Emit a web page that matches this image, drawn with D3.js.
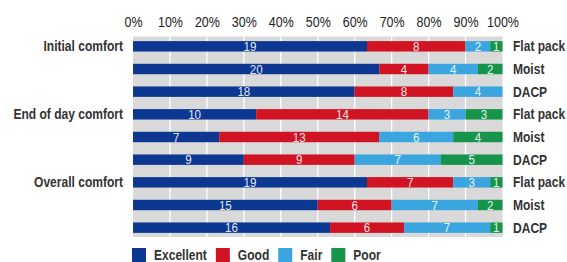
<!DOCTYPE html>
<html>
  <head>
    <script src="https://d3js.org/d3.v7.min.js"></script>
    <style>
body { margin: 0; background: #fff; }
text { font-family: "Liberation Sans", Arial, sans-serif; }
    </style>
  </head>
  <body>
    <script>
var groups = ["Initial comfort", "End of day comfort", "Overall comfort"];
var products = ["Flat pack", "Moist", "DACP"];
var ratings = ["Excellent", "Good", "Fair", "Poor"];
var colors = ["#0c3892", "#d01424", "#3aa5de", "#16944a"];

// counts per row (3 groups x 3 products)
var excellent = [19, 20, 18, 10, 7, 9, 19, 15, 16];
var good = [8, 4, 8, 14, 13, 9, 7, 6, 6];
var fair = [2, 4, 4, 3, 6, 7, 3, 7, 7];
var poor = [1, 2, 0, 3, 4, 5, 1, 2, 1];
var tickValues = [0, 10, 20, 30, 40, 50, 60, 70, 80, 90, 100];

var SX = 0.86; // narrow the font, no condensed face installed

function narrow(sel, tx, ty) {
	return sel.attr("transform", "translate(" + tx + "," + ty + ") scale(" + SX + ",1)");
}

var rows = [];
groups.forEach(function (g, gi) {
	products.forEach(function (p, pi) {
		var i = gi * 3 + pi;
		rows.push({
			id: i, group: pi == 0 ? g : "", product: p,
			values: [excellent[i], good[i], fair[i], poor[i]]
		});
	});
});

var svg = d3.select("body").append("svg").attr("width", 567).attr("height", 262);

var x = d3.scaleLinear().domain([0, 100]).range([133, 502.5]);
var y = d3.scaleBand().domain(d3.range(rows.length)).range([35, 239])
	.paddingInner(0.54).paddingOuter(0.27);

// grey plot background + white grid
svg.append("rect").attr("x", x(0)).attr("y", 36.5)
	.attr("width", x(100) - x(0)).attr("height", 200.5)
	.style("fill", "#d9d9d9");
svg.append("g").selectAll("line").data(tickValues.slice(1, -1)).enter().append("line")
	.attr("x1", function (d) { return x(d); }).attr("x2", function (d) { return x(d); })
	.attr("y1", 36.5).attr("y2", 237)
	.style("stroke", "#fff").style("stroke-width", 1.3);

// top axis
var axis = svg.append("g").attr("transform", "translate(0,27)")
	.call(d3.axisTop(x).tickValues(tickValues).tickSize(0).tickPadding(0)
		.tickFormat(function (d) { return d + "%"; }));
axis.select(".domain").remove();
axis.selectAll("text").attr("font-family", null).attr("transform", "scale(" + SX + ",1)")
	.style("font-size", "14.5px").style("fill", "#222");

// bars
var rowG = svg.selectAll("g.row").data(rows).enter().append("g").attr("class", "row")
	.attr("transform", function (d) { return "translate(0," + y(d.id) + ")"; });

var mid = y.bandwidth() / 2;

rowG.each(function (d) {
	var total = d3.sum(d.values);
	var acc = 0;
	var segs = d.values.map(function (v, k) {
		var s = { k: k, v: v, start: acc / total * 100, end: (acc + v) / total * 100 };
		acc += v;
		return s;
	}).filter(function (s) { return s.v > 0; });
	var g = d3.select(this);
	g.selectAll("rect").data(segs).enter().append("rect")
		.attr("x", function (s) { return x(s.start); })
		.attr("width", function (s) { return x(s.end) - x(s.start); })
		.attr("height", y.bandwidth())
		.style("fill", function (s) { return colors[s.k]; });
	g.selectAll("text.val").data(segs).enter().append("text").attr("class", "val")
		.attr("transform", function (s) {
			return "translate(" + (x(s.start) + x(s.end)) / 2 + "," + (mid + 4.8) + ") scale(" + SX + ",1)";
		})
		.attr("text-anchor", "middle")
		.style("font-size", "13.5px").style("fill", "#fff").style("fill-opacity", 0.9)
		.text(function (s) { return s.v; });
	narrow(g.append("text"), 123, mid + 5)
		.attr("text-anchor", "end").style("font-size", "14px").style("font-weight", "bold")
		.style("fill", "#333").text(d.group);
	narrow(g.append("text"), 513, mid + 5)
		.style("font-size", "14px").style("font-weight", "bold")
		.style("fill", "#333").text(d.product);
});

// legend
var lx = 132;
ratings.forEach(function (r, k) {
	svg.append("rect").attr("x", lx).attr("y", 248).attr("width", 14).attr("height", 14)
		.style("fill", colors[k]);
	var t = narrow(svg.append("text"), lx + 22, 260)
		.style("font-size", "14px").style("font-weight", "bold").style("fill", "#333").text(r);
	lx += 22 + t.node().getComputedTextLength() * SX + 9;
});
    </script>
  </body>
</html>
